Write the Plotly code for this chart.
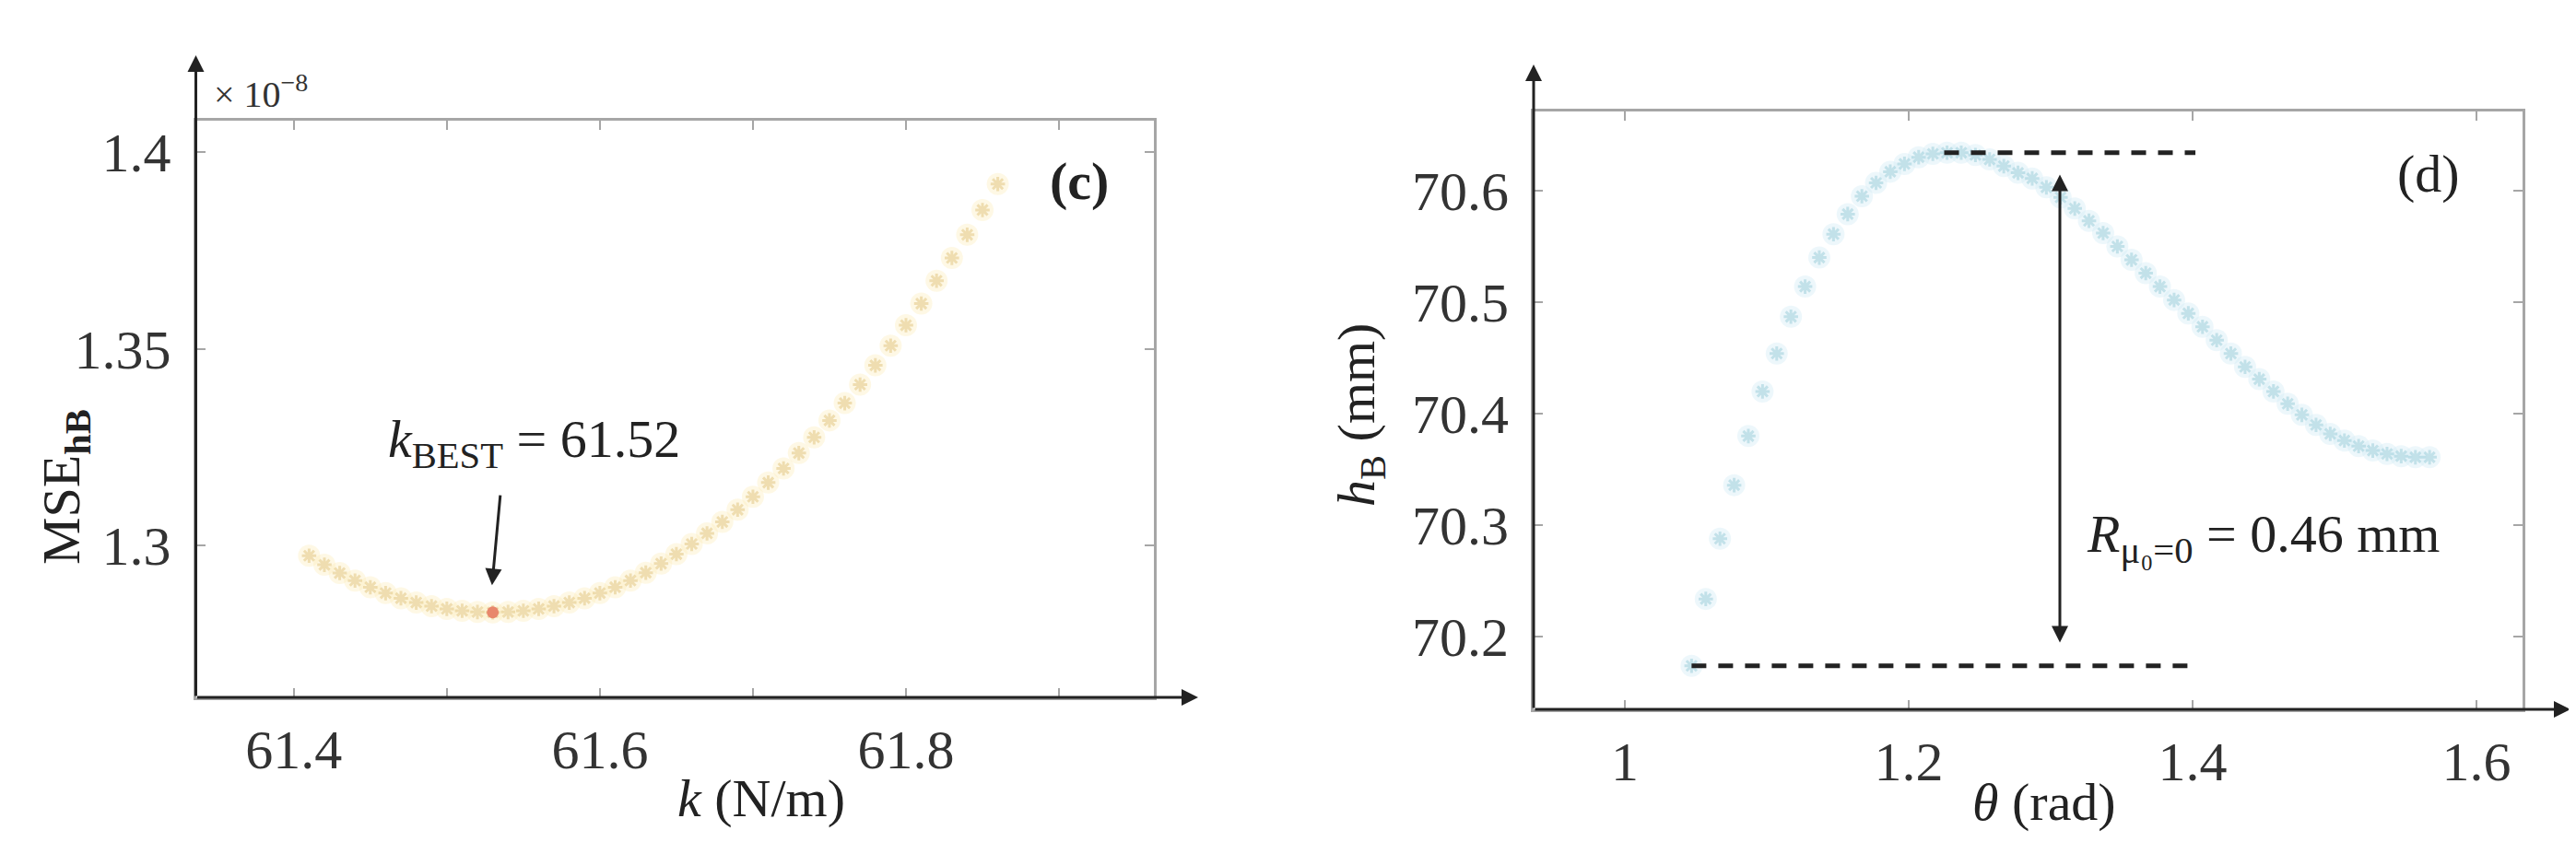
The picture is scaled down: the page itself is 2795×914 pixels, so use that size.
import plotly.graph_objects as go

# ---- panel (c): MSE of h_B versus spring stiffness k (values x 1e-8)
k_vals = [61.41, 61.42, 61.43, 61.44, 61.45, 61.46, 61.47, 61.48, 61.49, 61.50,
          61.51, 61.52, 61.53, 61.54, 61.55, 61.56, 61.57, 61.58, 61.59, 61.60,
          61.61, 61.62, 61.63, 61.64, 61.65, 61.66, 61.67, 61.68, 61.69, 61.70,
          61.71, 61.72, 61.73, 61.74, 61.75, 61.76, 61.77, 61.78, 61.79, 61.80,
          61.81, 61.82, 61.83, 61.84, 61.85, 61.86]
mse_vals = [1.2974, 1.2951, 1.2930, 1.2911, 1.2894, 1.2879, 1.2866, 1.2855, 1.2846, 1.2839,
            1.2834, 1.2831, 1.2830, 1.2831, 1.2834, 1.2839, 1.2846, 1.2855, 1.2866, 1.2879,
            1.2894, 1.2911, 1.2931, 1.2954, 1.2978, 1.3004, 1.3031, 1.3060, 1.3091, 1.3124,
            1.3160, 1.3196, 1.3235, 1.3275, 1.3318, 1.3362, 1.3409, 1.3458, 1.3508, 1.3560,
            1.3615, 1.3673, 1.3731, 1.3790, 1.3853, 1.3919]
k_best = [61.53]
mse_best = [1.2830]

# ---- panel (d): h_B versus theta
theta_vals = [1.047, 1.057, 1.067, 1.077, 1.087, 1.097, 1.107, 1.117, 1.127, 1.137,
              1.147, 1.157, 1.167, 1.177, 1.187, 1.197, 1.207, 1.217, 1.227, 1.237,
              1.247, 1.257, 1.267, 1.277, 1.287, 1.297, 1.307, 1.317, 1.327, 1.337,
              1.347, 1.357, 1.367, 1.377, 1.387, 1.397, 1.407, 1.417, 1.427, 1.437,
              1.447, 1.457, 1.467, 1.477, 1.487, 1.497, 1.507, 1.517, 1.527, 1.537,
              1.547, 1.557, 1.567]
hb_vals = [70.174, 70.234, 70.288, 70.336, 70.380, 70.420, 70.454, 70.487, 70.514, 70.540,
           70.561, 70.579, 70.595, 70.607, 70.617, 70.624, 70.630, 70.633, 70.634, 70.634,
           70.632, 70.628, 70.622, 70.616, 70.611, 70.603, 70.594, 70.584, 70.573, 70.562,
           70.550, 70.538, 70.526, 70.514, 70.502, 70.490, 70.478, 70.466, 70.454, 70.442,
           70.431, 70.420, 70.409, 70.399, 70.390, 70.382, 70.376, 70.371, 70.367, 70.364,
           70.362, 70.361, 70.361]
hb_max = 70.634
hb_min = 70.174
top_dash_x = [1.225, 1.402]
bot_dash_x = [1.047, 1.402]

W, H = 2795, 914
FONT = "Liberation Serif"
BOX = "#a6a6a6"
INK = "#222222"

fig = go.Figure()

# panel (c) markers: soft halo + cross
fig.add_trace(go.Scatter(x=k_vals, y=mse_vals, mode="markers", xaxis="x", yaxis="y",
                         marker=dict(symbol="circle", size=24, color="rgba(252,236,180,0.35)"),
                         hoverinfo="skip", showlegend=False))
fig.add_trace(go.Scatter(x=k_vals, y=mse_vals, mode="markers", xaxis="x", yaxis="y",
                         marker=dict(symbol="asterisk-open", size=13,
                                     color="rgba(228,204,140,0.6)",
                                     line=dict(width=3)),
                         showlegend=False))
fig.add_trace(go.Scatter(x=k_best, y=mse_best, mode="markers", xaxis="x", yaxis="y",
                         marker=dict(symbol="circle", size=13, color="#e8876c"),
                         showlegend=False))

# panel (d) markers
fig.add_trace(go.Scatter(x=theta_vals, y=hb_vals, mode="markers", xaxis="x2", yaxis="y2",
                         marker=dict(symbol="circle", size=24, color="rgba(210,236,244,0.4)"),
                         hoverinfo="skip", showlegend=False))
fig.add_trace(go.Scatter(x=theta_vals, y=hb_vals, mode="markers", xaxis="x2", yaxis="y2",
                         marker=dict(symbol="asterisk-open", size=13,
                                     color="rgba(165,210,222,0.6)",
                                     line=dict(width=3)),
                         showlegend=False))

# range markers (dashed)
for xs, yv in [(top_dash_x, hb_max), (bot_dash_x, hb_min)]:
    fig.add_trace(go.Scatter(x=xs, y=[yv, yv], mode="lines", xaxis="x2", yaxis="y2",
                             line=dict(color=INK, width=5, dash="16px,13px"),
                             showlegend=False))


def axis_style(**kw):
    d = dict(showline=True, linecolor=BOX, linewidth=3, mirror="ticks",
             ticks="inside", ticklen=10, tickwidth=2, tickcolor=BOX,
             showgrid=False, zeroline=False,
             tickfont=dict(family=FONT, size=60, color="#333333"))
    d.update(kw)
    return d


fig.update_layout(
    width=W, height=H,
    paper_bgcolor="white", plot_bgcolor="white",
    margin=dict(l=0, r=0, t=0, b=0),
    xaxis=axis_style(domain=[204.5 / W, 1244 / W], range=[61.336, 61.962],
                     tickvals=[61.4, 61.5, 61.6, 61.7, 61.8, 61.9],
                     ticktext=["61.4", "", "61.6", "", "61.8", ""],
                     anchor="y", ticklabelstandoff=2),
    yaxis=axis_style(domain=[165 / H, 791 / H], range=[1.2614, 1.408],
                     tickvals=[1.3, 1.35, 1.4], ticktext=["1.3", "1.35", "1.4"],
                     anchor="x", ticklabelstandoff=12),
    xaxis2=axis_style(domain=[1656 / W, 2729 / W], range=[0.9357, 1.6325],
                      tickvals=[1, 1.2, 1.4, 1.6], ticktext=["1", "1.2", "1.4", "1.6"],
                      anchor="y2", ticklabelstandoff=2),
    yaxis2=axis_style(domain=[152 / H, 801 / H], range=[70.135, 70.671],
                      tickvals=[70.2, 70.3, 70.4, 70.5, 70.6],
                      ticktext=["70.2", "70.3", "70.4", "70.5", "70.6"],
                      anchor="x2", ticklabelstandoff=12),
)

ann = []
# black axis lines with arrowheads
for hx, hy, ax, ay in [
    (1292 / W, 165 / H, -(1292 - 204.5), 0),
    (204.5 / W, (H - 52) / H, 0, 749 - 52),
    (2781 / W, 152 / H, -(2781 - 1656), 0),
    (1656 / W, (H - 62) / H, 0, 762 - 62),
]:
    ann.append(dict(x=hx, y=hy, xref="paper", yref="paper", ax=ax, ay=ay,
                    axref="pixel", ayref="pixel", showarrow=True, arrowhead=2,
                    arrowsize=1.2, arrowwidth=3, arrowcolor=INK, text=""))

# annotation arrows inside the plots
ann.append(dict(x=61.5295, y=1.2899, xref="x", yref="y", ax=61.535, ay=1.3131,
                axref="x", ayref="y", showarrow=True, arrowhead=2, arrowsize=1.2,
                arrowwidth=3, arrowcolor=INK, text=""))
ann.append(dict(x=1.3065, y=70.6145, xref="x2", yref="y2", ax=1.3065, ay=70.1937,
                axref="x2", ayref="y2", showarrow=True, arrowhead=2, arrowsize=1.2,
                arrowwidth=3, arrowcolor=INK, arrowside="end+start", text=""))

txt = dict(showarrow=False, font=dict(family=FONT, size=58, color=INK))
ann += [
    dict(text="<i>k</i><sub>BEST</sub> = 61.52", x=571 / W, y=(H - 472) / H,
         xref="paper", yref="paper", xanchor="center", yanchor="middle", **txt),
    dict(text="<i>R</i><sub>μ₀=0</sub> = 0.46 mm", x=2254 / W, y=(H - 575) / H,
         xref="paper", yref="paper", xanchor="left", yanchor="middle", **txt),
    dict(text="<i>k</i> (N/m)", x=818 / W, y=(H - 858) / H,
         xref="paper", yref="paper", xanchor="center", yanchor="middle", **txt),
    dict(text="<i>θ</i> (rad)", x=2210 / W, y=(H - 862) / H,
         xref="paper", yref="paper", xanchor="center", yanchor="middle", **txt),
    dict(text="MSE<sub><b>hB</b></sub>", x=62 / W, y=(H - 521) / H, textangle=-90,
         xref="paper", yref="paper", xanchor="center", yanchor="middle", **txt),
    dict(text="<i>h</i><sub>B</sub> (mm)", x=1467 / W, y=(H - 443) / H, textangle=-90,
         xref="paper", yref="paper", xanchor="center", yanchor="middle", **txt),
    dict(text="<b>(c)</b>", x=1163 / W, y=(H - 188) / H,
         xref="paper", yref="paper", xanchor="center", yanchor="middle", **txt),
    dict(text="(d)", x=2627 / W, y=(H - 180) / H,
         xref="paper", yref="paper", xanchor="center", yanchor="middle", **txt),
    dict(text="× 10<sup>−8</sup>", x=222 / W, y=(H - 91) / H,
         xref="paper", yref="paper", xanchor="left", yanchor="middle",
         showarrow=False, font=dict(family=FONT, size=40, color="#333333")),
]
fig.update_layout(annotations=ann)

fig.write_html("out.html")
